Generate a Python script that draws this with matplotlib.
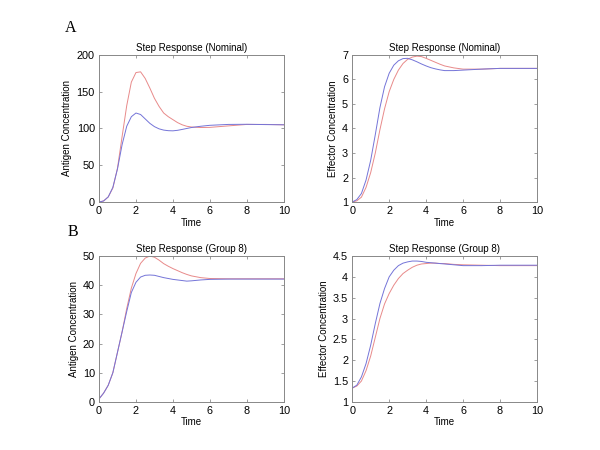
import matplotlib
matplotlib.use("Agg")
import matplotlib.pyplot as plt

plt.rcParams['font.family'] = ['Liberation Sans', 'DejaVu Sans']

t = [0, 0.25, 0.5, 0.75, 1, 1.25, 1.5, 1.75, 2, 2.25, 2.5, 2.75, 3, 3.25, 3.5, 3.75,
     4, 4.25, 4.5, 4.75, 5, 5.5, 6, 7, 8, 9, 10]

# Nominal, antigen
nom_ag_red = [0, 1.5, 7, 19, 46, 89, 131, 163, 176, 177, 168, 155, 141, 130, 121, 116,
              112, 108, 105, 103, 102, 101.3, 101.5, 103.5, 105.5, 105.5, 105]
nom_ag_blue = [0, 1.5, 7, 20, 45, 78, 103, 116, 121, 119, 113, 107, 102.5, 99.5, 97.8, 97,
               96.8, 97.5, 98.7, 100, 101.3, 103, 104.3, 105.5, 105.7, 105.3, 105]
# Nominal, effector
nom_ef_red = [1, 1.05, 1.2, 1.6, 2.2, 3.0, 3.95, 4.8, 5.5, 6.0, 6.38, 6.65, 6.82, 6.91, 6.95, 6.93,
              6.86, 6.78, 6.7, 6.62, 6.55, 6.47, 6.42, 6.42, 6.45, 6.45, 6.45]
nom_ef_blue = [1, 1.1, 1.35, 1.9, 2.7, 3.75, 4.85, 5.7, 6.25, 6.58, 6.76, 6.85, 6.86, 6.8, 6.72, 6.63,
               6.55, 6.48, 6.43, 6.39, 6.36, 6.36, 6.38, 6.42, 6.45, 6.45, 6.45]
# Group 8, antigen
g8_ag_red = [1, 3, 5.7, 10, 17, 24, 32, 39, 44, 47.5, 49.3, 50, 49.6, 48.6, 47.4, 46.5,
             45.7, 45, 44.3, 43.7, 43.2, 42.6, 42.3, 42.2, 42.2, 42.2, 42.2]
g8_ag_blue = [1, 3, 5.7, 10, 17, 24, 31, 37.5, 41, 42.8, 43.4, 43.5, 43.4, 43, 42.6, 42.3,
              42, 41.8, 41.6, 41.4, 41.5, 41.8, 42, 42.1, 42.1, 42.1, 42.1]
# Group 8, effector
g8_ef_red = [1.33, 1.38, 1.5, 1.75, 2.1, 2.55, 3.0, 3.35, 3.6, 3.8, 3.96, 4.08, 4.16, 4.23, 4.28, 4.31,
             4.32, 4.33, 4.33, 4.32, 4.32, 4.3, 4.29, 4.28, 4.27, 4.27, 4.27]
g8_ef_blue = [1.33, 1.4, 1.6, 1.92, 2.36, 2.88, 3.36, 3.72, 4.0, 4.16, 4.27, 4.33, 4.36, 4.38, 4.38, 4.37,
              4.35, 4.34, 4.33, 4.32, 4.31, 4.29, 4.27, 4.27, 4.28, 4.28, 4.28]

panels = [
    ("Step Response (Nominal)", "Antigen Concentration", nom_ag_red, nom_ag_blue, (0, 200), [0, 50, 100, 150, 200], ["0", "50", "100", "150", "200"]),
    ("Step Response (Nominal)", "Effector Concentration", nom_ef_red, nom_ef_blue, (1, 7), [1, 2, 3, 4, 5, 6, 7], ["1", "2", "3", "4", "5", "6", "7"]),
    ("Step Response (Group 8)", "Antigen Concentration", g8_ag_red, g8_ag_blue, (0, 50), [0, 10, 20, 30, 40, 50], ["0", "10", "20", "30", "40", "50"]),
    ("Step Response (Group 8)", "Effector Concentration", g8_ef_red, g8_ef_blue, (1, 4.5), [1, 1.5, 2, 2.5, 3, 3.5, 4, 4.5], ["1", "1.5", "2", "2.5", "3", "3.5", "4", "4.5"]),
]
rects = [
    [0.165, 0.551, 0.308, 0.327],
    [0.587, 0.551, 0.308, 0.327],
    [0.165, 0.107, 0.308, 0.324],
    [0.587, 0.107, 0.308, 0.324],
]

fig = plt.figure(figsize=(6, 4.5), dpi=100)
for rect, (title, ylabel, red, blue, ylim, yt, ytl) in zip(rects, panels):
    ax = fig.add_axes(rect)
    ax.plot(t, red, color='#e88a8a', lw=0.7)
    ax.plot(t, blue, color='#7474d8', lw=0.7)
    ax.set_xlim(0, 10)
    ax.set_ylim(*ylim)
    ax.set_xticks([0, 2, 4, 6, 8, 10])
    ax.set_yticks(yt)
    ax.set_yticklabels(ytl)
    ax.tick_params(direction='in', top=True, right=True, labelsize=7.8, length=2.5,
                   width=0.5, color='#777777', pad=3)
    for s in ax.spines.values():
        s.set_color('#888888')
        s.set_linewidth(0.7)
    ax.set_title(title, fontsize=7, pad=3)
    ax.set_xlabel("Time", fontsize=7, labelpad=1)
    ax.set_ylabel(ylabel, fontsize=7, labelpad=3)

fig.text(0.108, 0.938, "A", family='Liberation Serif', fontsize=11.5, va='center')
fig.text(0.113, 0.484, "B", family='Liberation Serif', fontsize=11.5, va='center')

fig.savefig("out.png", dpi=100)
